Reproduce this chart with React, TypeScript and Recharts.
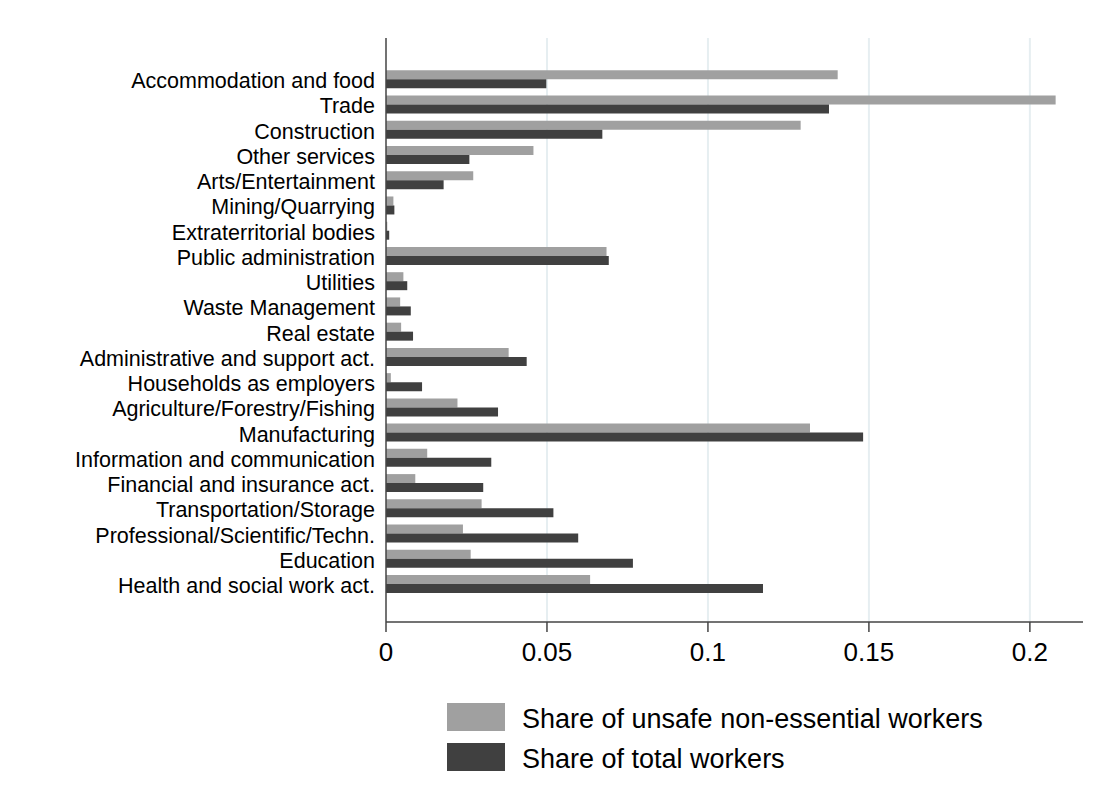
import React from "react";
import { BarChart, Bar, XAxis, YAxis, CartesianGrid, Legend } from "recharts";

const categories = [
  "Accommodation and food",
  "Trade",
  "Construction",
  "Other services",
  "Arts/Entertainment",
  "Mining/Quarrying",
  "Extraterritorial bodies",
  "Public administration",
  "Utilities",
  "Waste Management",
  "Real estate",
  "Administrative and support act.",
  "Households as employers",
  "Agriculture/Forestry/Fishing",
  "Manufacturing",
  "Information and communication",
  "Financial and insurance act.",
  "Transportation/Storage",
  "Professional/Scientific/Techn.",
  "Education",
  "Health and social work act.",
];

const unsafeShare = [
  0.1403, 0.208, 0.1288, 0.0458, 0.0271, 0.0023, 0.0004, 0.0685, 0.0054, 0.0044,
  0.0047, 0.0381, 0.0015, 0.0222, 0.1317, 0.0128, 0.0091, 0.0297, 0.0239, 0.0263,
  0.0634,
];

const totalShare = [
  0.0498, 0.1376, 0.0672, 0.0259, 0.0179, 0.0026, 0.001, 0.0692, 0.0066, 0.0077,
  0.0084, 0.0437, 0.0112, 0.0348, 0.1482, 0.0327, 0.0302, 0.052, 0.0597, 0.0767,
  0.1171,
];

const xTicks = [0, 0.05, 0.1, 0.15, 0.2];
const tickLabels = ["0", "0.05", "0.1", "0.15", "0.2"];

const seriesNames = ["Share of unsafe non-essential workers", "Share of total workers"];
const LIGHT = "#a0a0a0";
const DARK = "#404040";

const data = categories.map((c, i) => ({
  name: c,
  unsafe: unsafeShare[i],
  total: totalShare[i],
}));

const FONT = '"Liberation Sans", Arial, Helvetica, sans-serif';

const LegendContent = () => (
  <div style={{ fontFamily: FONT }}>
    {[LIGHT, DARK].map((col, i) => (
      <div
        key={i}
        style={{ display: "flex", alignItems: "center", height: 40 }}
      >
        <div style={{ width: 58, height: 28, background: col }} />
        <span style={{ marginLeft: 17, fontSize: 27, color: "#000", lineHeight: "28px", position: "relative", top: 2 }}>
          {seriesNames[i]}
        </span>
      </div>
    ))}
  </div>
);

export default function App() {
  return (
    <div style={{ width: 1084, height: 790, background: "#fff" }}>
      <BarChart
        width={1084}
        height={790}
        data={data}
        layout="vertical"
        margin={{ top: 30, right: 9, left: 0, bottom: 116 }}
        barCategoryGap="13%"
        barGap={0}
      >
        <CartesianGrid
          horizontal={false}
          vertical={true}
          stroke="#e6eef1"
          strokeWidth={2}
          verticalValues={[0.05, 0.1, 0.15, 0.2]}
        />
        <XAxis
          type="number"
          domain={[0, 0.2165]}
          ticks={xTicks}
          tickFormatter={(v: number) => tickLabels[xTicks.indexOf(v)] ?? String(v)}
          height={60}
          tickSize={10}
          tickMargin={11}
          axisLine={{ stroke: "#444", strokeWidth: 1.5 }}
          tickLine={{ stroke: "#444", strokeWidth: 1.5 }}
          tick={{ fontSize: 26, fill: "#000", fontFamily: FONT }}
          allowDataOverflow
        />
        <YAxis
          type="category"
          dataKey="name"
          width={378}
          interval={0}
          padding={{ top: 29, bottom: 25 }}
          tickLine={false}
          tickSize={0}
          tickMargin={11}
          axisLine={{ stroke: "#444", strokeWidth: 1.5 }}
          tick={{ fontSize: 21.5, fill: "#000", fontFamily: FONT, dy: 1 }}
        />
        <Legend
          layout="vertical"
          align="center"
          verticalAlign="middle"
          content={<LegendContent />}
          wrapperStyle={{ position: "absolute", left: 439, top: 689, width: 620, height: 80 }}
        />
        <Bar dataKey="unsafe" name={seriesNames[0]} fill={LIGHT} isAnimationActive={false} />
        <Bar dataKey="total" name={seriesNames[1]} fill={DARK} isAnimationActive={false} />
      </BarChart>
    </div>
  );
}
